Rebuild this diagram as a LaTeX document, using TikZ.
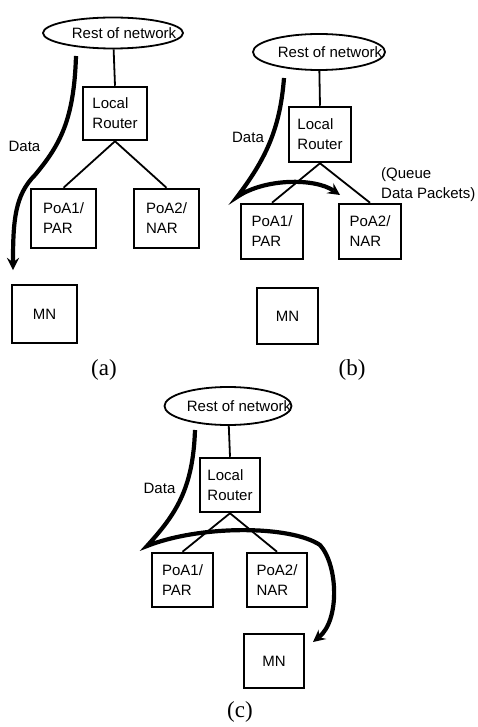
\documentclass[tikz,border=0pt]{standalone}
\usepackage{fontspec}
\newfontfamily\boxfont{Liberation Sans}
\newfontfamily\capfont{Liberation Serif}
\usetikzlibrary{shapes}

\begin{document}
\begin{tikzpicture}
[x=1pt,y=-1pt,
  lineDecorate/.style={-,line width=1.8pt},%
  boxDecorate/.style={shape=rectangle,draw,line width=2.5pt,inner sep=0pt,align=left,
    font={\boxfont\fontsize{15}{20}\selectfont}},
  cloudDecorate/.style={shape=ellipse,draw,line width=1.8pt,inner sep=0pt,
    font={\boxfont\fontsize{15}{18}\selectfont}},
  textDecorate/.style={inner sep=0pt,align=left,
    font={\boxfont\fontsize{15}{20}\selectfont}},
  capDecorate/.style={inner sep=0pt,font={\capfont\fontsize{23}{27}\selectfont}},
  dataDecorate/.style={->,>=stealth,line width=4.2pt}]
\useasboundingbox (0,0) rectangle (477,727);
%%
%%%%%%%%%%%%%%%%%%%%%%%%%%%%%%%%%%%%%%%%%%%%%%%%%%%%%%%%%%%%%%%%%%%%%%%%%%%
%%
%% panel (a)
%% network cloud and boxes
\node (net1) at (113,33) [cloudDecorate,minimum width=140pt,minimum height=31pt]
  {\makebox[0pt]{\hspace*{22pt}Rest of network}};
\foreach \nodename/\x/\y/\w/\h/\txt in {
  lr1/115/113.5/64/53/{Local\\Router},
  par1/63.5/218.5/65/59/{PoA1/\\PAR},
  nar1/166.5/218.5/65/59/{PoA2/\\NAR},
  mn1/44.5/314/65/58/MN}
{
  \node (\nodename) at (\x,\y) [boxDecorate,minimum width=\w pt,minimum height=\h pt] {\txt};
}
%% links
\path
\foreach \startnode/\endnode in {
  net1/lr1.north, lr1.south/par1.north, lr1.south/nar1.north}
{
  (\startnode) edge[lineDecorate] (\endnode)
};
%% data path
\coordinate (d1) at (76,56);
\coordinate (e1) at (13,270);
\draw[dataDecorate] (d1) .. controls (74,120) and (60,145) .. (35,175)
  .. controls (15,195) and (13,220) .. (e1);
\node (data1) at (24.5,146) [textDecorate] {Data};
\node (cap1) at (104,370) [capDecorate] {(a)};
%%
%%%%%%%%%%%%%%%%%%%%%%%%%%%%%%%%%%%%%%%%%%%%%%%%%%%%%%%%%%%%%%%%%%%%%%%%%%%
%%
%% panel (b)
%% network cloud and boxes
\node (net2) at (319,52) [cloudDecorate,minimum width=132pt,minimum height=36pt]
  {\makebox[0pt]{\hspace*{22pt}Rest of network}};
\foreach \nodename/\x/\y/\w/\h/\txt in {
  lr2/320/134.5/62/55/{Local\\Router},
  par2/272/231.5/62/55/{PoA1/\\PAR},
  nar2/370/231.5/62/55/{PoA2/\\NAR},
  mn2/287.5/316/61/56/MN}
{
  \node (\nodename) at (\x,\y) [boxDecorate,minimum width=\w pt,minimum height=\h pt] {\txt};
}
%% links
\path
\foreach \startnode/\endnode in {
  net2/lr2.north, lr2.south/par2.north, lr2.south/nar2.north}
{
  (\startnode) edge[lineDecorate] (\endnode)
};
%% data path
\coordinate (d2) at (284,78);
\coordinate (e2) at (340,195);
\draw[dataDecorate] (d2) .. controls (280,130) and (265,160) .. (237,197)
  .. controls (265,178) and (315,178) .. (e2);
\node (data2) at (248,137) [textDecorate] {Data};
\node (queue) at (381,185) [textDecorate,anchor=west] {(Queue\\Data Packets)};
\node (cap2) at (352,370) [capDecorate] {(b)};
%%
%%%%%%%%%%%%%%%%%%%%%%%%%%%%%%%%%%%%%%%%%%%%%%%%%%%%%%%%%%%%%%%%%%%%%%%%%%%
%%
%% panel (c)
%% network cloud and boxes
\node (net3) at (228,406) [cloudDecorate,minimum width=127pt,minimum height=38pt]
  {\makebox[0pt]{\hspace*{22pt}Rest of network}};
\foreach \nodename/\x/\y/\w/\h/\txt in {
  lr3/230/485/60/54/{Local\\Router},
  par3/182.5/580/61/54/{PoA1/\\PAR},
  nar3/277/580/60/54/{PoA2/\\NAR},
  mn3/274/661/60/54/MN}
{
  \node (\nodename) at (\x,\y) [boxDecorate,minimum width=\w pt,minimum height=\h pt] {\txt};
}
%% links
\path
\foreach \startnode/\endnode in {
  net3/lr3.north, lr3.south/par3.north, lr3.south/nar3.north}
{
  (\startnode) edge[lineDecorate] (\endnode)
};
%% data path
\coordinate (d3) at (195,430);
\coordinate (e3) at (313,642);
\draw[dataDecorate] (d3) .. controls (193,490) and (175,515) .. (147,546)
  .. controls (200,525) and (290,525) .. (320,545)
  .. controls (338,565) and (340,620) .. (e3);
\node (data3) at (159.5,488) [textDecorate] {Data};
\node (cap3) at (240,712) [capDecorate] {(c)};
\end{tikzpicture}
\end{document}
